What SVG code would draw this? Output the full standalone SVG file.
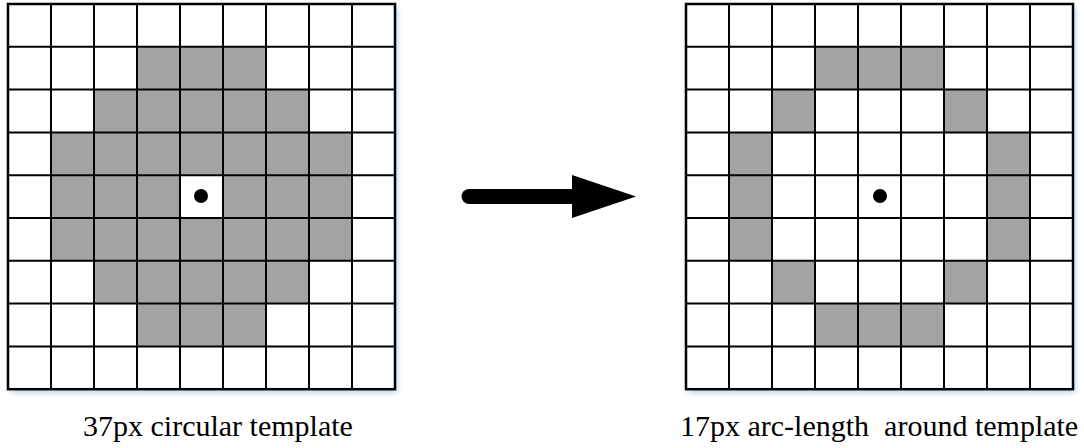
<svg xmlns="http://www.w3.org/2000/svg" width="1084" height="448" viewBox="0 0 1084 448">
  <style>
    .bg { fill: #ffffff; }
    .on { fill: #a3a3a3; stroke: #d4d4d4; stroke-width: 1; }
    .ln { stroke: #000000; stroke-width: 2; fill: none; }
    .frame { stroke: #000000; stroke-width: 2.5; fill: none; }
    .dot { fill: #000000; }
    .cap { font-family: "Liberation Serif", "Times New Roman", serif; font-size: 30px; fill: #000000; white-space: pre; }
  </style>
  <defs>
    <filter id="sh" x="-10%" y="-10%" width="120%" height="120%">
      <feDropShadow dx="2" dy="3" stdDeviation="3" flood-color="#9cc0e6" flood-opacity="0.8"/>
    </filter>
    <pattern id="gridL" x="8" y="4" width="43" height="42.8" patternUnits="userSpaceOnUse">
      <path d="M0 0H43M0 0V42.8" class="ln"/>
    </pattern>
  </defs>
  <rect width="1084" height="448" fill="#ffffff"/>

  <g id="left-template">
    <rect x="8" y="4" width="387" height="385.2" class="bg" filter="url(#sh)"/>
    <g id="left-cells">
      <rect class="on" x="137" y="46.8" width="129" height="42.8"/>
      <rect class="on" x="94" y="89.6" width="215" height="42.8"/>
      <rect class="on" x="51" y="132.4" width="301" height="42.8"/>
      <rect class="on" x="51" y="175.2" width="129" height="42.8"/>
      <rect class="on" x="223" y="175.2" width="129" height="42.8"/>
      <rect class="on" x="51" y="218" width="301" height="42.8"/>
      <rect class="on" x="94" y="260.8" width="215" height="42.8"/>
      <rect class="on" x="137" y="303.6" width="129" height="42.8"/>
    </g>
    <path class="ln" d="M51 4V389.2M94 4V389.2M137 4V389.2M180 4V389.2M223 4V389.2M266 4V389.2M309 4V389.2M352 4V389.2
      M8 46.8H395M8 89.6H395M8 132.4H395M8 175.2H395M8 218H395M8 260.8H395M8 303.6H395M8 346.4H395"/>
    <rect class="frame" x="8" y="4" width="387" height="385.2"/>
    <circle class="dot" cx="201" cy="196" r="7"/>
    <text class="cap" x="83" y="436">37px circular template</text>
  </g>

  <g id="right-template">
    <rect x="686" y="4" width="387" height="385.2" class="bg" filter="url(#sh)"/>
    <g id="right-cells">
      <rect class="on" x="815" y="46.8" width="129" height="42.8"/>
      <rect class="on" x="772" y="89.6" width="43" height="42.8"/>
      <rect class="on" x="944" y="89.6" width="43" height="42.8"/>
      <rect class="on" x="729" y="132.4" width="43" height="128.4"/>
      <rect class="on" x="987" y="132.4" width="43" height="128.4"/>
      <rect class="on" x="772" y="260.8" width="43" height="42.8"/>
      <rect class="on" x="944" y="260.8" width="43" height="42.8"/>
      <rect class="on" x="815" y="303.6" width="129" height="42.8"/>
    </g>
    <path class="ln" d="M729 4V389.2M772 4V389.2M815 4V389.2M858 4V389.2M901 4V389.2M944 4V389.2M987 4V389.2M1030 4V389.2
      M686 46.8H1073M686 89.6H1073M686 132.4H1073M686 175.2H1073M686 218H1073M686 260.8H1073M686 303.6H1073M686 346.4H1073"/>
    <rect class="frame" x="686" y="4" width="387" height="385.2"/>
    <circle class="dot" cx="880" cy="196" r="7"/>
    <text class="cap" x="680" y="436">17px arc-length  around template</text>
  </g>

  <g id="connectors">
    <line x1="469" y1="196.5" x2="576" y2="196.5" stroke="#000000" stroke-width="15" stroke-linecap="round"/>
    <polygon points="572,175 636,196.5 572,218" fill="#000000"/>
  </g>
</svg>
